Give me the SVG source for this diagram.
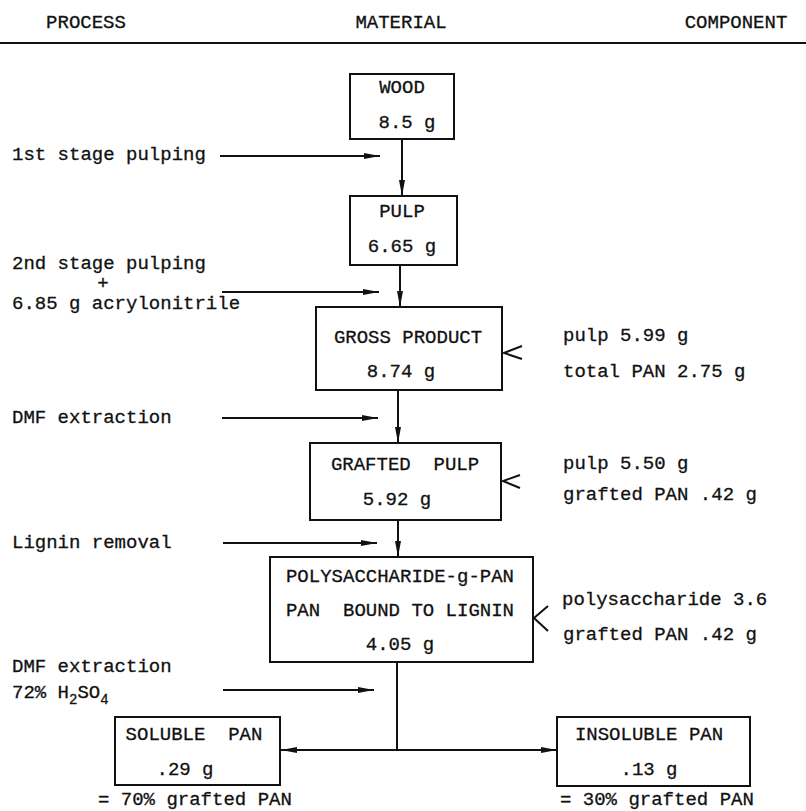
<svg xmlns="http://www.w3.org/2000/svg" width="806" height="811" viewBox="0 0 806 811">
<style>
text{font-family:"Liberation Mono","Courier New",monospace;font-size:19px;fill:#111;stroke:#111;stroke-width:0.3}
.m{text-anchor:middle}
.box{fill:#fff;stroke:#111;stroke-width:2}
.ln{fill:none;stroke:#111;stroke-width:2}
.sub{font-size:14px}
</style>
<defs>
<marker id="ah" viewBox="0 0 16 8" refX="16" refY="4" markerWidth="16" markerHeight="8" markerUnits="userSpaceOnUse" orient="auto">
<path d="M0,1 L16,4 L0,7 Z" fill="#111"/>
</marker>
</defs>
<rect width="806" height="811" fill="#fff"/>
<g id="header">
<text x="86" y="28" class="m">PROCESS</text>
<text x="401" y="28" class="m">MATERIAL</text>
<text x="736" y="28" class="m">COMPONENT</text>
<line x1="0" y1="43" x2="806" y2="43" class="ln"/>
</g>
<g id="process-labels">
<text x="12" y="160">1st stage pulping</text>
<text x="12" y="269">2nd stage pulping</text>
<text x="103" y="289" class="m">+</text>
<text x="12" y="309">6.85 g acrylonitrile</text>
<text x="12" y="423">DMF extraction</text>
<text x="12" y="548">Lignin removal</text>
<text x="12" y="672">DMF extraction</text>
<text x="12" y="698">72% H<tspan class="sub" dy="6">2</tspan><tspan dy="-6">SO</tspan><tspan class="sub" dy="6">4</tspan></text>
</g>
<g id="component-labels">
<text x="563" y="341">pulp 5.99 g</text>
<text x="563" y="377">total PAN 2.75 g</text>
<text x="563" y="469">pulp 5.50 g</text>
<text x="563" y="500">grafted PAN .42 g</text>
<text x="562" y="605">polysaccharide 3.6</text>
<text x="563" y="640">grafted PAN .42 g</text>
</g>
<g id="connectors">
<line x1="220" y1="156" x2="380" y2="156" class="ln" marker-end="url(#ah)"/>
<line x1="222" y1="292" x2="379" y2="292" class="ln" marker-end="url(#ah)"/>
<line x1="222" y1="418" x2="378" y2="418" class="ln" marker-end="url(#ah)"/>
<line x1="223" y1="543" x2="377" y2="543" class="ln" marker-end="url(#ah)"/>
<line x1="223" y1="690" x2="374" y2="690" class="ln" marker-end="url(#ah)"/>
<line x1="402" y1="139" x2="402" y2="196" class="ln" marker-end="url(#ah)"/>
<line x1="400" y1="265" x2="400" y2="307" class="ln" marker-end="url(#ah)"/>
<line x1="398" y1="390" x2="398" y2="443" class="ln" marker-end="url(#ah)"/>
<line x1="398" y1="520" x2="398" y2="557" class="ln" marker-end="url(#ah)"/>
<line x1="397" y1="662" x2="397" y2="750" class="ln"/>
<line x1="397" y1="750" x2="281" y2="750" class="ln" marker-end="url(#ah)"/>
<line x1="397" y1="750" x2="557" y2="750" class="ln" marker-end="url(#ah)"/>
<path d="M522,346 L504,353 L522,359" class="ln"/>
<path d="M520,475 L503,481 L520,488" class="ln"/>
<path d="M548,606 L534,618 L548,631" class="ln"/>
</g>
<g id="wood">
<rect x="350" y="74" width="104" height="65" class="box"/>
<text x="402" y="93" class="m">WOOD</text>
<text x="407" y="128" class="m">8.5 g</text>
</g>
<g id="pulp">
<rect x="350" y="196" width="107" height="69" class="box"/>
<text x="402" y="217" class="m">PULP</text>
<text x="402" y="252" class="m">6.65 g</text>
</g>
<g id="gross-product">
<rect x="316" y="307" width="186" height="83" class="box"/>
<text x="408" y="343" class="m">GROSS PRODUCT</text>
<text x="401" y="377" class="m">8.74 g</text>
</g>
<g id="grafted-pulp">
<rect x="310" y="443" width="191" height="77" class="box"/>
<text x="405" y="470" class="m" xml:space="preserve">GRAFTED  PULP</text>
<text x="397" y="505" class="m">5.92 g</text>
</g>
<g id="polysaccharide">
<rect x="270" y="557" width="263" height="105" class="box"/>
<text x="400" y="582" class="m">POLYSACCHARIDE-g-PAN</text>
<text x="400" y="616" class="m" xml:space="preserve">PAN  BOUND TO LIGNIN</text>
<text x="400" y="650" class="m">4.05 g</text>
</g>
<g id="soluble-pan">
<rect x="115" y="717" width="165" height="68" class="box"/>
<text x="194" y="740" class="m" xml:space="preserve">SOLUBLE  PAN</text>
<text x="185" y="775" class="m">.29 g</text>
<text x="98" y="805">= 70% grafted PAN</text>
</g>
<g id="insoluble-pan">
<rect x="557" y="717" width="193" height="69" class="box"/>
<text x="649" y="740" class="m">INSOLUBLE PAN</text>
<text x="649" y="775" class="m">.13 g</text>
<text x="560" y="805">= 30% grafted PAN</text>
</g>
</svg>
